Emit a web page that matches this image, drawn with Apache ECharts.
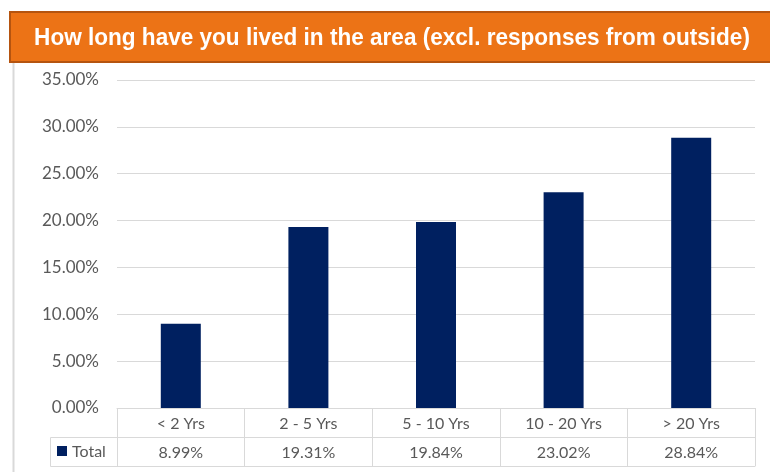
<!DOCTYPE html>
<html>
<head>
<meta charset="utf-8">
<script src="https://cdn.jsdelivr.net/npm/echarts@6/dist/echarts.min.js"></script>
<style>
  html, body { margin: 0; padding: 0; background: #fff; }
  #chart { width: 770px; height: 472px; }
</style>
</head>
<body>
<div id="chart"></div>
<script>
var categories = ['< 2 Yrs', '2 - 5 Yrs', '5 - 10 Yrs', '10 - 20 Yrs', '> 20 Yrs'];
var totals = [0.0899, 0.1931, 0.1984, 0.2302, 0.2884];
var seriesName = 'Total';
var titleText = 'How long have you lived in the area (excl. responses from outside)';

var navy = '#002060';
var gridGray = '#D9D9D9';
var textGray = '#595959';
var font = 'Lato, "Open Sans", sans-serif';

function pct(v) { return (v * 100).toFixed(2) + '%'; }

var chart = echarts.init(document.getElementById('chart'));
var option = {
  animation: false,
  grid: { left: 117, right: 15, top: 80, bottom: 64 },
  yAxis: {
    type: 'value',
    min: 0,
    max: 0.35,
    interval: 0.05,
    axisLine: { show: false },
    axisTick: { show: false },
    splitLine: { lineStyle: { color: gridGray, width: 1 } },
    axisLabel: {
      formatter: pct,
      color: textGray,
      fontFamily: font,
      fontSize: 17,
      margin: 18
    }
  },
  xAxis: [
    {
      type: 'category',
      data: categories,
      axisLine: { lineStyle: { color: gridGray } },
      axisTick: { show: true, length: 58, lineStyle: { color: gridGray } },
      axisLabel: { color: textGray, fontFamily: font, fontSize: 16, margin: 8 }
    },
    {
      type: 'category',
      data: totals.map(pct),
      position: 'bottom',
      offset: 29,
      axisLine: { lineStyle: { color: gridGray } },
      axisTick: { show: false },
      axisLabel: { color: textGray, fontFamily: font, fontSize: 16, margin: 8 }
    },
    {
      type: 'category',
      data: categories,
      position: 'bottom',
      offset: 58,
      axisLine: { lineStyle: { color: gridGray } },
      axisTick: { show: false },
      axisLabel: { show: false }
    }
  ],
  series: [
    {
      name: seriesName,
      type: 'bar',
      xAxisIndex: 0,
      data: totals,
      barWidth: 40,
      itemStyle: { color: navy }
    }
  ],
  graphic: [
    // left frame line
    { type: 'line', shape: { x1: 13.5, y1: 62, x2: 13.5, y2: 472 }, style: { stroke: gridGray, lineWidth: 2 } },
    // title banner
    { type: 'rect', shape: { x: 10, y: 12, width: 770, height: 50 }, style: { fill: '#EC7316', stroke: '#B5540F', lineWidth: 2 } },
    {
      type: 'text', x: 392, y: 38, scaleX: 0.94,
      style: {
        text: titleText, fill: '#fff', align: 'center', verticalAlign: 'middle',
        font: 'bold 24px "Liberation Sans", Arial, sans-serif'
      }
    },
    // "Total" legend cell
    { type: 'rect', shape: { x: 50.5, y: 437.5, width: 67, height: 29 }, style: { fill: 'none', stroke: gridGray, lineWidth: 1 } },
    { type: 'rect', shape: { x: 57, y: 446, width: 10, height: 10 }, style: { fill: navy } },
    {
      type: 'text', x: 72, y: 452,
      style: { text: seriesName, fill: textGray, verticalAlign: 'middle', font: '16px ' + font }
    }
  ]
};
chart.setOption(option);
</script>
</body>
</html>
